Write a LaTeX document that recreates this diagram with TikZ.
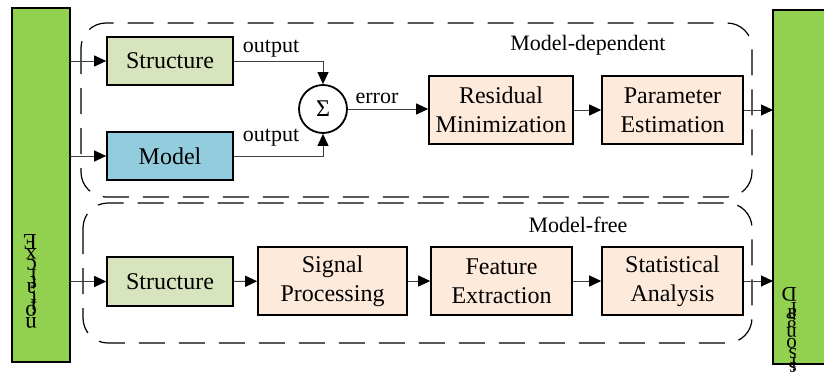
\documentclass[tikz,border=0pt]{standalone}
\usepackage{fontspec}
\setmainfont{Liberation Serif}
\usetikzlibrary{arrows.meta}
\definecolor{bargreen}{HTML}{92D050}
\definecolor{strgreen}{HTML}{D7E4BD}
\definecolor{modblue}{HTML}{93CDDD}
\definecolor{peach}{HTML}{FDEADA}
\begin{document}
\begin{tikzpicture}[x=1pt,y=-1pt,
  box/.style={draw=black,line width=1.6pt,minimum width=126pt,minimum height=48pt,inner sep=0pt,align=center,font=\fontsize{24}{29}\selectfont},
  pbox/.style={box,fill=peach,minimum width=141pt,minimum height=68pt},
  bar/.style={draw=black,line width=1.8pt,fill=bargreen},
  arr/.style={draw=black!75,line width=1pt,-{Triangle[length=12pt,width=11pt,fill=black,color=black]}},
  lab/.style={font=\fontsize{22}{26}\selectfont,inner sep=0pt},
  grp/.style={draw=black,line width=1.2pt,dash pattern=on 26pt off 14pt,rounded corners=25pt},
  ltr/.style={rotate=180,anchor=base west,inner sep=0pt}]
\useasboundingbox (0,0) rectangle (824,372);
% group frames
\draw[grp] (81,23) rectangle (752,197);
\draw[grp] (83,203) rectangle (752,343);
% side bars
\draw[bar] (12,8) rectangle (70,362);
\draw[bar] (773,10) rectangle (830,364);
\coordinate (lb) at (70,180);
\coordinate (rb) at (773,180);
% bar texts
\foreach \ch/\yy [count=\i] in {E/234,x/248.1,c/259.6,i/269.8,t/276.2,a/282.5,t/292.8,i/299.1,o/305.5,n/317.0}
  \node[ltr,font=\fontsize{23}{27}\selectfont] (ex\i) at (37,\yy) {\ch};
\foreach \ch/\yy [count=\i] in {D/287,i/302.2,a/308,g/317.3,n/327.8,o/338.3,s/348.8,i/357,s/362.8}
  \node[ltr,font=\fontsize{21}{25}\selectfont] (dg\i) at (797,\yy) {\ch};
% boxes
\node[box,fill=strgreen] (s1) at (170,61) {Structure};
\node[box,fill=modblue] (m1) at (170,156) {Model};
\node[draw=black,line width=1.8pt,circle,minimum size=48pt,inner sep=0pt,font=\fontsize{24}{29}\selectfont] (sig) at (323,109) {Σ};
\node[pbox,minimum width=144pt] (rm) at (501,110) {Residual\\Minimization};
\node[pbox] (pe) at (672.5,110) {Parameter\\Estimation};
\node[box,fill=strgreen,minimum height=49pt] (s2) at (170,281.5) {Structure};
\node[pbox,minimum width=149pt] (sp) at (332.5,281) {Signal\\Processing};
\node[pbox] (fe) at (501.5,281) {Feature\\Extraction};
\node[pbox] (sa) at (672.5,281) {Statistical\\Analysis};
% labels
\node[lab] (o1) at (271,49) {output};
\node[lab] (o2) at (271,138) {output};
\node[lab] (er) at (377,98) {error};
\node[lab] (md) at (588,45) {Model-dependent};
\node[lab] (mf) at (578,225) {Model-free};
% connectors
\draw[arr] (s1.west -| lb) -- (s1.west);
\draw[arr] (m1.west -| lb) -- (m1.west);
\draw[arr] (s2.west -| lb) -- (s2.west);
\draw[arr] (s1.east) -| (sig.north);
\draw[arr] (m1.east) -| (sig.south);
\draw[arr] (sig.east) -- (sig.east -| rm.west);
\draw[arr] (rm) -- (pe);
\draw[arr] (pe.east) -- (pe.east -| rb);
\draw[arr] (s2) -- (sp);
\draw[arr] (sp) -- (fe);
\draw[arr] (fe) -- (sa);
\draw[arr] (sa.east) -- (sa.east -| rb);
\end{tikzpicture}
\end{document}
